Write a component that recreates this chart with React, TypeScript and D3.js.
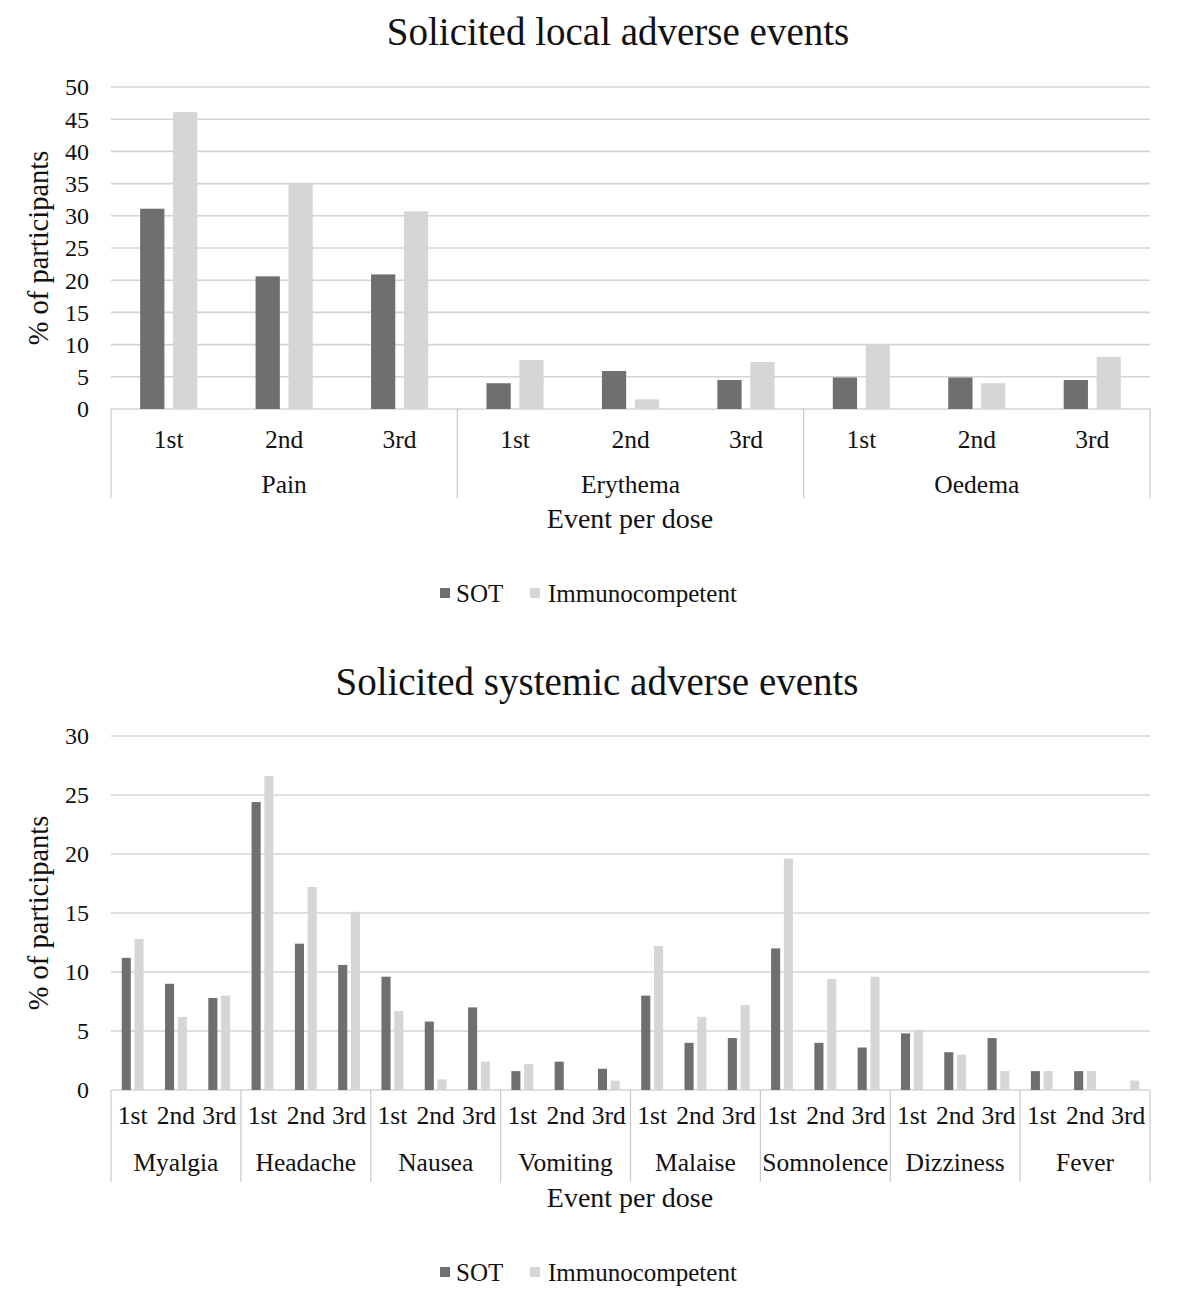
import * as d3 from "d3";
import { useEffect, useRef } from "react";

// dose labels shared by both panels
const doses = ["1st", "2nd", "3rd"];
const seriesNames = ["SOT", "Immunocompetent"];

// local events (% of participants), per group x dose
const localGroups = ["Pain", "Erythema", "Oedema"];
const localSOT = [31.1, 20.6, 20.9, 4.0, 5.9, 4.5, 4.9, 4.9, 4.5];
const localImm = [46.1, 35.0, 30.7, 7.6, 1.5, 7.3, 10.1, 4.0, 8.1];

// systemic events (% of participants)
const systemicGroups = ["Myalgia", "Headache", "Nausea", "Vomiting", "Malaise", "Somnolence", "Dizziness", "Fever"];
const systemicSOT = [11.2, 9.0, 7.8, 24.4, 12.4, 10.6, 9.6, 5.8, 7.0, 1.6, 2.4, 1.8, 8.0, 4.0, 4.4, 12.0, 4.0, 3.6, 4.8, 3.2, 4.4, 1.6, 1.6, 0];
const systemicImm = [12.8, 6.2, 8.0, 26.6, 17.2, 15.1, 6.7, 0.9, 2.4, 2.2, 0, 0.8, 12.2, 6.2, 7.2, 19.6, 9.4, 9.6, 5.1, 3.0, 1.6, 1.6, 1.6, 0.8];

const W = 1181;
const H = 1314;
const FONT = "'Liberation Serif', 'Times New Roman', serif";
const SOT_COLOR = "#6f6f6f";
const IMM_COLOR = "#d6d6d6";
const GRID = "#d4d4d4";
const TEXT = "#111";

type Panel = {
  title: string;
  titleX: number;
  titleY: number;
  groups: string[];
  sot: number[];
  imm: number[];
  yMax: number;
  yTop: number;
  yBottom: number;
  barFrac: number;
  gapFrac: number;
  doseY: number;
  groupY: number;
  boxBottom: number;
  axisTitleY: number;
  legendY: number;
};

function drawPanel(svg: d3.Selection<SVGSVGElement, unknown, null, undefined>, p: Panel) {
  const left = 111;
  const right = 1150;
  const keys = p.groups.flatMap((g) => doses.map((d) => `${g}|${d}`));
  const x = d3.scaleBand().domain(keys).range([left, right]);
  const y = d3.scaleLinear().domain([0, p.yMax]).range([p.yBottom, p.yTop]);
  const step = x.step();
  const barW = step * p.barFrac;
  const gap = step * p.gapFrac;
  const g = svg.append("g").attr("font-family", FONT).attr("fill", TEXT);

  g.append("text").attr("x", p.titleX).attr("y", p.titleY)
    .attr("text-anchor", "middle").attr("font-size", 39).text(p.title);

  const ticks = d3.range(0, p.yMax + 0.01, 5);
  g.selectAll(".grid").data(ticks).enter().append("line")
    .attr("x1", left).attr("x2", right)
    .attr("y1", (d) => y(d)).attr("y2", (d) => y(d))
    .attr("stroke", GRID).attr("stroke-width", 1.6);
  g.selectAll(".tick").data(ticks).enter().append("text")
    .attr("x", 89).attr("y", (d) => y(d)).attr("dy", "0.35em")
    .attr("text-anchor", "end").attr("font-size", 24).text((d) => d);

  const yMid = (p.yTop + p.yBottom) / 2;
  g.append("text").attr("transform", `translate(48,${yMid}) rotate(-90)`)
    .attr("text-anchor", "middle").attr("font-size", 28.5).text("% of participants");

  const rows = keys.map((k, i) => ({ k, sot: p.sot[i], imm: p.imm[i] }));
  g.selectAll(".sot").data(rows).enter().append("rect")
    .attr("x", (d) => x(d.k)! + step / 2 - gap / 2 - barW)
    .attr("y", (d) => y(d.sot)).attr("width", barW)
    .attr("height", (d) => y(0) - y(d.sot)).attr("fill", SOT_COLOR);
  g.selectAll(".imm").data(rows).enter().append("rect")
    .attr("x", (d) => x(d.k)! + step / 2 + gap / 2)
    .attr("y", (d) => y(d.imm)).attr("width", barW)
    .attr("height", (d) => y(0) - y(d.imm)).attr("fill", IMM_COLOR);

  // category boxes
  const bounds = p.groups.map((gr) => x(`${gr}|${doses[0]}`)!).concat([right]);
  g.selectAll(".sep").data(bounds).enter().append("line")
    .attr("x1", (d) => d).attr("x2", (d) => d)
    .attr("y1", y(0)).attr("y2", p.boxBottom)
    .attr("stroke", "#c9c9c9").attr("stroke-width", 1.2);

  g.selectAll(".dose").data(keys).enter().append("text")
    .attr("x", (d) => x(d)! + step / 2).attr("y", p.doseY)
    .attr("text-anchor", "middle").attr("font-size", 25.5)
    .text((d) => d.split("|")[1]);
  g.selectAll(".grp").data(p.groups).enter().append("text")
    .attr("x", (d) => x(`${d}|${doses[0]}`)! + step * 1.5).attr("y", p.groupY)
    .attr("text-anchor", "middle").attr("font-size", 25.5).text((d) => d);

  g.append("text").attr("x", 630).attr("y", p.axisTitleY)
    .attr("text-anchor", "middle").attr("font-size", 28).text("Event per dose");

  // legend
  const lg = g.append("g").attr("transform", `translate(0,${p.legendY})`);
  lg.append("rect").attr("x", 440).attr("y", -5).attr("width", 10).attr("height", 10).attr("fill", SOT_COLOR);
  lg.append("text").attr("x", 456).attr("y", 0).attr("dy", "0.35em").attr("font-size", 25).text(seriesNames[0]);
  lg.append("rect").attr("x", 530).attr("y", -5).attr("width", 10).attr("height", 10).attr("fill", IMM_COLOR);
  lg.append("text").attr("x", 548).attr("y", 0).attr("dy", "0.35em").attr("font-size", 25).text(seriesNames[1]);
}

export default function App() {
  const ref = useRef<SVGSVGElement>(null);
  useEffect(() => {
    document.body.style.margin = "0";
    if (!ref.current) return;
    const svg = d3.select(ref.current);
    svg.selectAll("*").remove();
    drawPanel(svg, {
      title: "Solicited local adverse events", titleX: 618, titleY: 45,
      groups: localGroups, sot: localSOT, imm: localImm,
      yMax: 50, yTop: 87, yBottom: 409, barFrac: 0.21, gapFrac: 0.075,
      doseY: 448, groupY: 493, boxBottom: 498, axisTitleY: 528, legendY: 593,
    });
    drawPanel(svg, {
      title: "Solicited systemic adverse events", titleX: 597, titleY: 695,
      groups: systemicGroups, sot: systemicSOT, imm: systemicImm,
      yMax: 30, yTop: 736, yBottom: 1090, barFrac: 0.21, gapFrac: 0.085,
      doseY: 1124, groupY: 1171, boxBottom: 1182, axisTitleY: 1207, legendY: 1272,
    });
  }, []);
  return <svg ref={ref} width={W} height={H} style={{ display: "block", background: "#fff" }} />;
}
